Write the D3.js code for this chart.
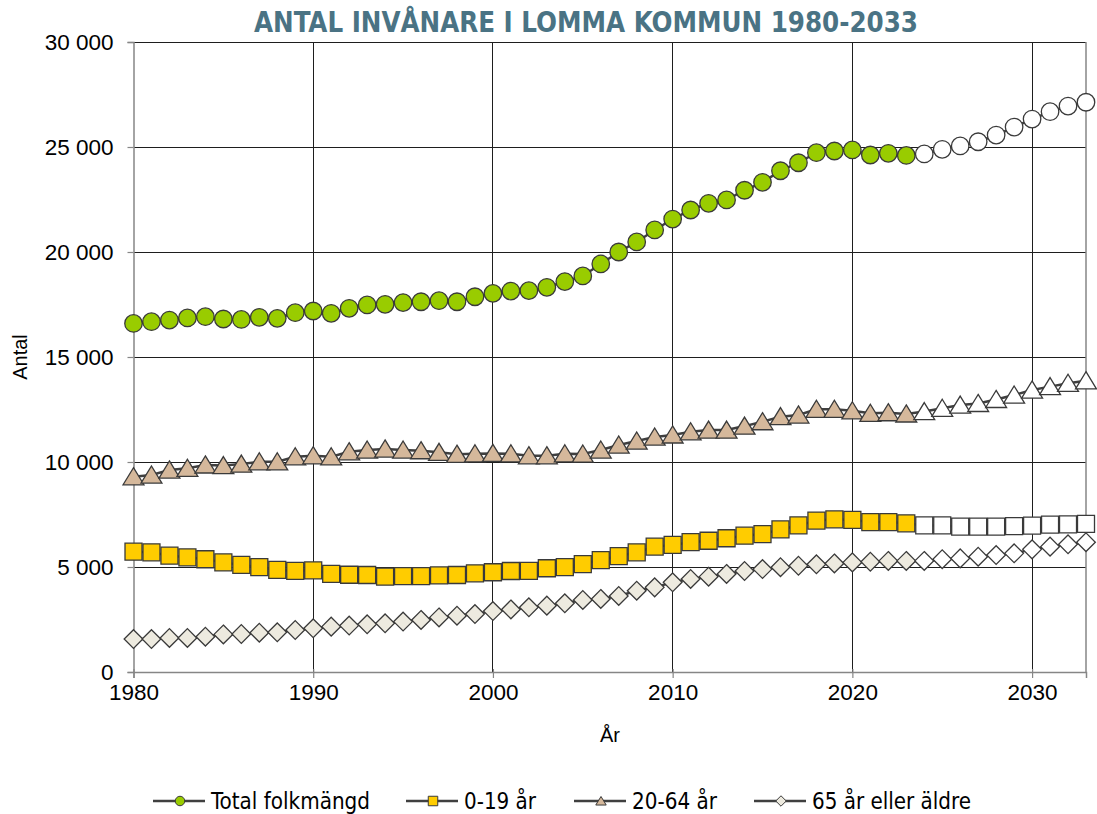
<!DOCTYPE html>
<html>
<head>
<meta charset="utf-8">
<script src="https://cdn.jsdelivr.net/npm/d3@7"></script>
<style>
  body { margin: 0; background: #fff; }
  svg { display: block; }
  .tick text { font-family: "Liberation Sans", Arial, sans-serif; }
</style>
</head>
<body>
<svg id="chart" width="1097" height="814"></svg>
<script>
// Years 1980-2033, from 2024 on the values are a forecast (white markers)
const years = d3.range(1980, 2034);
const forecastFrom = 2024;

const total = [
  16600, 16680, 16760, 16860, 16920, 16810, 16790, 16890, 16840, 17110,
  17190, 17080, 17320, 17480, 17510, 17590, 17630, 17680, 17630, 17870,
  18030, 18140, 18160, 18320, 18590, 18860, 19430, 20000, 20480, 21050,
  21570, 22000, 22320, 22480, 22940, 23320, 23870, 24250, 24730, 24810,
  24860, 24620, 24700, 24600, 24670, 24890, 25050, 25250, 25570, 25950,
  26330, 26680, 26950, 27130
];
const age0_19 = [
  5730, 5700, 5540, 5460, 5370, 5220, 5100, 4990, 4860, 4820,
  4840, 4670, 4630, 4620, 4540, 4570, 4570, 4600, 4620, 4700,
  4750, 4810, 4820, 4940, 4990, 5140, 5330, 5520, 5700, 5970,
  6050, 6180, 6250, 6370, 6490, 6570, 6790, 6980, 7210, 7270,
  7240, 7140, 7140, 7080, 6980, 6980, 6920, 6920, 6920, 6950,
  6970, 7020, 7030, 7050
];
const age20_64 = [
  9300, 9380, 9620, 9700, 9860, 9830, 9900, 10010, 10010, 10250,
  10300, 10250, 10490, 10570, 10620, 10570, 10540, 10460, 10370, 10390,
  10410, 10390, 10300, 10300, 10390, 10380, 10570, 10810, 11000, 11190,
  11290, 11440, 11520, 11520, 11710, 11920, 12160, 12240, 12510, 12510,
  12440, 12320, 12350, 12290, 12400, 12560, 12710, 12790, 12980, 13190,
  13430, 13590, 13750, 13870
];
const age65 = [
  1570, 1570, 1620, 1620, 1680, 1790, 1810, 1870, 1890, 2000,
  2080, 2160, 2210, 2270, 2320, 2400, 2480, 2600, 2680, 2760,
  2900, 2980, 3080, 3160, 3270, 3430, 3480, 3620, 3870, 4030,
  4270, 4430, 4540, 4670, 4810, 4900, 4990, 5060, 5130, 5170,
  5220, 5250, 5290, 5290, 5290, 5370, 5410, 5490, 5570, 5650,
  5840, 5970, 6080, 6180
];

const seriesNames = ['Total folkmängd', '0-19 år', '20-64 år', '65 år eller äldre'];
const seriesColors = ['#99cc00', '#ffcc00', '#d5b89b', '#edeadf'];
const seriesShapes = ['circle', 'square', 'triangle', 'diamond'];
const seriesValues = [total, age0_19, age20_64, age65];

const yTicks = d3.range(0, 30001, 5000);
const xTicks = d3.range(1980, 2031, 10);

const svg = d3.select('#chart');
const plotL = 133.5, plotR = 1086, plotT = 42, plotB = 672;

const x = d3.scaleLinear().domain([1980, 2033]).range([plotL, plotR]);
const y = d3.scaleLinear().domain([0, 30000]).range([plotB, plotT]);

const sv = d3.formatLocale({ decimal: ',', thousands: '\u00a0', grouping: [3], currency: ['', ''] });
const fmt = sv.format(',');

// Gridlines
const grid = svg.append('g').attr('shape-rendering', 'crispEdges');
grid.selectAll('line.h')
  .data(yTicks.filter(d => d > 0))
  .join('line')
    .attr('class', 'h')
    .attr('x1', plotL).attr('x2', plotR)
    .attr('y1', d => y(d)).attr('y2', d => y(d))
    .attr('stroke', '#1e1e1e').attr('stroke-width', 1);
grid.selectAll('line.v')
  .data(xTicks.filter(d => d > 1980))
  .join('line')
    .attr('class', 'v')
    .attr('x1', d => x(d)).attr('x2', d => x(d))
    .attr('y1', plotT).attr('y2', plotB)
    .attr('stroke', '#1e1e1e').attr('stroke-width', 1);

// right border of the plot area
svg.append('line')
  .attr('x1', plotR).attr('x2', plotR).attr('y1', plotT).attr('y2', plotB)
  .attr('stroke', '#868686').attr('stroke-width', 1.5);

// Axes
const yAxis = svg.append('g')
  .attr('transform', `translate(${plotL},0)`)
  .call(d3.axisLeft(y).tickValues(yTicks).tickFormat(fmt).tickSize(6).tickPadding(14));
const xAxis = svg.append('g')
  .attr('transform', `translate(0,${plotB})`)
  .call(d3.axisBottom(x).tickValues(xTicks).tickFormat(d3.format('d')).tickSize(6).tickPadding(6));

[yAxis, xAxis].forEach(a => {
  a.select('.domain').attr('stroke', '#868686').attr('stroke-width', 1.5);
  a.selectAll('.tick line').attr('stroke', '#868686').attr('stroke-width', 1.2);
  a.selectAll('.tick text').attr('font-size', 22.5).attr('fill', '#000');
});
xAxis.selectAll('.tick line').attr('y1', -3);

// Axis titles
svg.append('text')
  .attr('transform', 'translate(27,357) rotate(-90)')
  .attr('text-anchor', 'middle')
  .attr('font-family', '"Liberation Sans", Arial, sans-serif')
  .attr('font-size', 20)
  .text('Antal');
svg.append('text')
  .attr('x', 610).attr('y', 742)
  .attr('text-anchor', 'middle')
  .attr('font-family', '"Liberation Sans", Arial, sans-serif')
  .attr('font-size', 20)
  .text('År');

// Title
svg.append('text')
  .attr('x', 586).attr('y', 32)
  .attr('text-anchor', 'middle')
  .attr('font-family', '"Liberation Sans Narrow", "DejaVu Sans Condensed", "Roboto", sans-serif')
  .attr('font-weight', 'bold')
  .attr('font-size', 29)
  .attr('fill', '#4a7384')
  .attr('textLength', 664)
  .attr('lengthAdjust', 'spacingAndGlyphs')
  .text('ANTAL INVÅNARE I LOMMA KOMMUN 1980-2033');

// Marker paths
function markerPath(shape, s) {
  const h = s / 2;
  if (shape === 'square') return `M${-h},${-h}H${h}V${h}H${-h}Z`;
  if (shape === 'triangle') return `M0,${-h * 0.95}L${h * 1.1},${h * 0.85}L${-h * 1.1},${h * 0.85}Z`;
  if (shape === 'diamond') return `M0,${-h * 1.1}L${h * 1.1},0L0,${h * 1.1}L${-h * 1.1},0Z`;
  return d3.symbol(d3.symbolCircle, Math.PI * h * h)();
}
const markerSize = [17.5, 17, 19, 17];

const line = d3.line().x(d => x(d.year)).y(d => y(d.value));

seriesValues.forEach((vals, i) => {
  const data = years.map((yr, k) => ({ year: yr, value: vals[k] }));
  const g = svg.append('g');
  g.append('path')
    .datum(data)
    .attr('d', line)
    .attr('fill', 'none')
    .attr('stroke', '#404040')
    .attr('stroke-width', 2.5);
  g.selectAll('path.m')
    .data(data)
    .join('path')
      .attr('class', 'm')
      .attr('transform', d => `translate(${x(d.year)},${y(d.value)})`)
      .attr('d', markerPath(seriesShapes[i], markerSize[i]))
      .attr('fill', d => d.year >= forecastFrom ? '#ffffff' : seriesColors[i])
      .attr('stroke', '#3a3a3a')
      .attr('stroke-width', 1.3);
});

// Legend
const legendX = [180, 433, 601, 781];
const legendW = [159, 72, 85, 159];
const legend = svg.append('g');
seriesNames.forEach((name, i) => {
  const cx = legendX[i], cy = 801;
  legend.append('line')
    .attr('x1', cx - 27).attr('x2', cx + 25).attr('y1', cy).attr('y2', cy)
    .attr('stroke', '#404040').attr('stroke-width', 2.5);
  legend.append('path')
    .attr('transform', `translate(${cx},${cy})`)
    .attr('d', markerPath(seriesShapes[i], 9.5))
    .attr('fill', seriesColors[i])
    .attr('stroke', '#3a3a3a')
    .attr('stroke-width', 1);
  legend.append('text')
    .attr('x', cx + 31).attr('y', cy + 8)
    .attr('font-family', '"Liberation Sans Narrow", "DejaVu Sans Condensed", "Roboto", sans-serif')
    .attr('font-size', 22.5)
    .attr('fill', '#000')
    .attr('textLength', legendW[i])
    .attr('lengthAdjust', 'spacingAndGlyphs')
    .text(name);
});
</script>
</body>
</html>
